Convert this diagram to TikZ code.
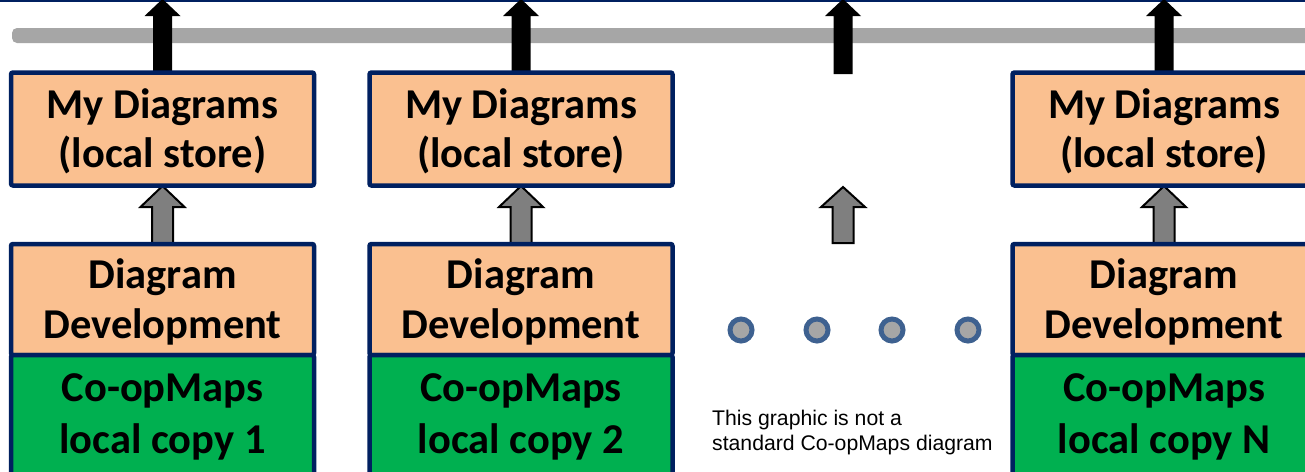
\documentclass[tikz,border=0pt]{standalone}
\usepackage{fontspec}
\setmainfont{Carlito}
\newfontfamily\notefont{Liberation Sans}
\definecolor{navy}{HTML}{002060}
\definecolor{peach}{HTML}{FAC090}
\definecolor{grn}{HTML}{00B050}
\definecolor{barg}{HTML}{A6A6A6}
\definecolor{dotring}{HTML}{3E6190}
\definecolor{arrg}{HTML}{7F7F7F}
\newcommand\uparr[7][]{%
  \path[#1] ({#2},{#3}) -- ({#2+#6},{#4}) -- ({#2+#7},{#4}) -- ({#2+#7},{#5}) -- ({#2-#7},{#5}) -- ({#2-#7},{#4}) -- ({#2-#6},{#4}) -- cycle;}
\begin{document}
\begin{tikzpicture}[x=1pt,y=-1pt,
  boxbase/.style={draw=navy, line width=4.5pt, rounded corners=2pt, minimum width=303pt, inner sep=0pt},
  storebox/.style={boxbase, fill=peach, minimum height=113pt},
  devbox/.style={boxbase, fill=peach, minimum height=111pt},
  copybox/.style={boxbase, fill=grn, minimum height=125pt},
  lbl/.style={anchor=base, inner sep=0pt, font=\bfseries\fontsize{42.5}{50}\selectfont},
  note/.style={anchor=base west, inner sep=0pt, font=\notefont\fontsize{21.2}{25}\selectfont},
  dot/.style={circle, draw=dotring, fill=barg, line width=5pt, minimum size=22pt, inner sep=0pt},
  bigarr/.style={fill=black},
  smallarr/.style={fill=arrg, draw=black, line width=2pt, line join=miter}
]
\clip (0,0) rectangle (1305,471);
\fill[white] (0,0) rectangle (1305,471);
% top line and bus bar
\fill[navy] (0,0) rectangle (1305,1.6);
\fill[barg, rounded corners=5pt] (12,28) rectangle (1320,43);
% arrows
\foreach \c in {162.5,521,843,1164}{
  \uparr[bigarr]{\c}{-1}{16}{74}{18}{9.5}
}
\foreach \c in {162.5,521,1164}{
  \uparr[smallarr]{\c}{186}{207}{243}{22}{10.5}
}
\uparr[smallarr]{843}{187}{207}{243}{22}{10.5}
% boxes and labels
\foreach \c/\n in {162.5/1,521/2,1164/N}{
  \node[storebox] (store\n) at (\c,129) {};
  \node[devbox] (dev\n) at (\c,299.5) {};
  \node[copybox] (copy\n) at (\c,417.5) {};
  \node[lbl] (storeA\n) at (\c,118) {My Diagrams};
  \node[lbl] (storeB\n) at (\c,167) {(local store)};
  \node[lbl] (devA\n) at (\c,288) {Diagram};
  \node[lbl] (devB\n) at (\c,338) {Development};
  \node[lbl] (copyA\n) at (\c,401) {Co-opMaps};
  \node[lbl] (copyB\n) at (\c,453) {local copy \n};
}
% ellipsis dots
\foreach \x/\i in {741/1,817/2,892/3,968/4}{
  \node[dot] (dot\i) at (\x,330) {};
}
\node[note] (noteA) at (712,425) {This graphic is not a};
\node[note] (noteB) at (712,450) {standard Co-opMaps diagram};
\end{tikzpicture}
\end{document}
